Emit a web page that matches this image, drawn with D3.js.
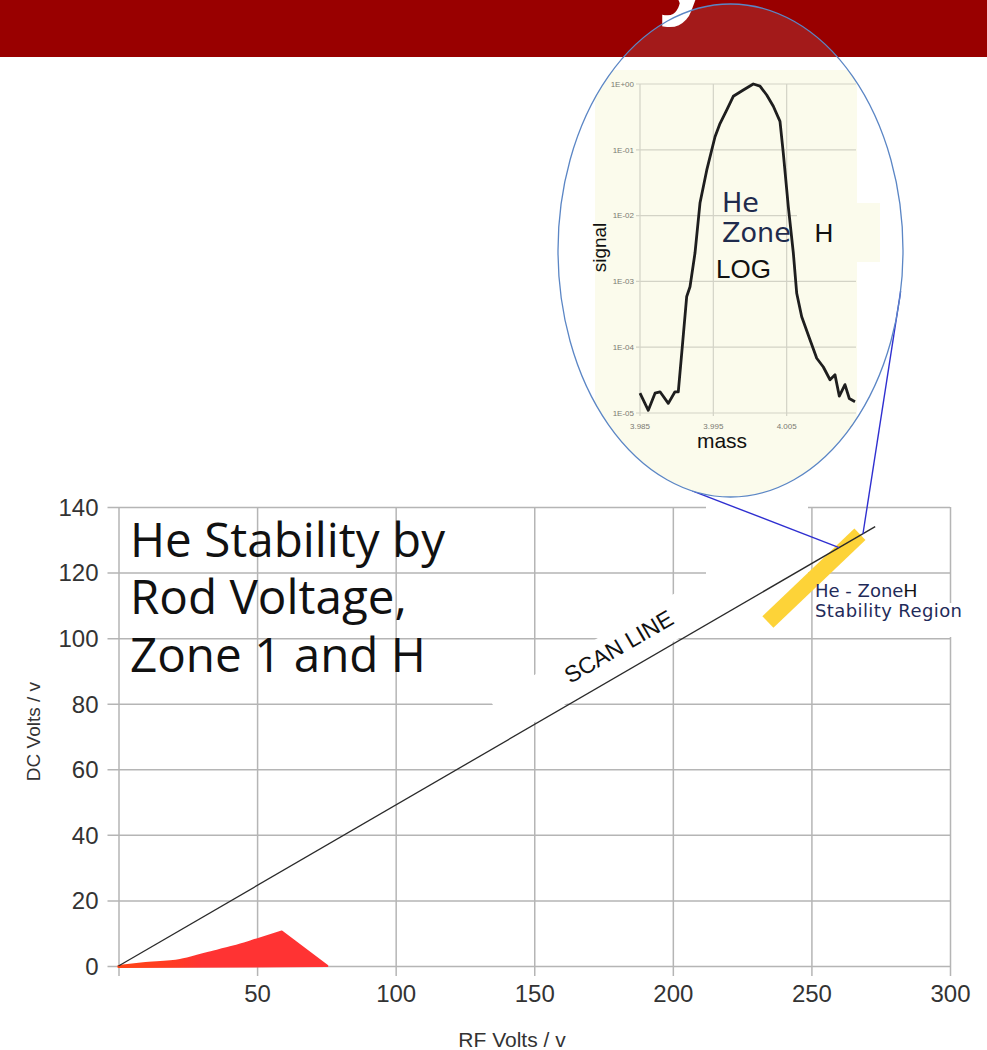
<!DOCTYPE html>
<html>
<head>
<meta charset="utf-8">
<script src="https://cdn.jsdelivr.net/npm/d3@7"></script>
<style>
  html, body { margin: 0; padding: 0; background: #fff; }
  svg { display: block; }
</style>
</head>
<body>
<svg id="chart" width="987" height="1050"></svg>
<script>
// ---- Main chart: DC vs RF rod voltage ----
const rfTicks = [0, 50, 100, 150, 200, 250, 300];
const dcTicks = [0, 20, 40, 60, 80, 100, 120, 140];

// scan line (RF, DC end points)
const scanRF = [0, 273];
const scanDC = [0, 134];

// Zone 1 stability region: curved upper edge up to the tip, then straight back to the axis
const zone1UpperRF = [0, 8.9, 22.2, 31.8, 41.4, 49.9, 58.9];
const zone1UpperDC = [0, 0.8, 1.8, 3.9, 5.9, 8.1, 10.5];
const zone1EndRF = 75.3;

// Zone H stability band (centre line end points)
const zoneHRF = [234.3, 267.5];
const zoneHDC = [104.9, 131.7];

// where the zone H band meets the scan line (connector anchors)
const zoneHScanRF = [260, 268.6];

// position of the "SCAN LINE" label along the scan line
const scanLabelRF = 185;

// ---- Inset: He peak, zone H, log scale ----
const massTicks = [3.985, 3.995, 4.005, 4.015];
const massTickLabels = ["3.985", "3.995", "4.005", "4.015"];
const signalTicks = [1, 1e-1, 1e-2, 1e-3, 1e-4, 1e-5];
const signalTickLabels = ["1E+00", "1E-01", "1E-02", "1E-03", "1E-04", "1E-05"];

const peakMass = [3.9850, 3.98613, 3.98705, 3.98773, 3.98886, 3.98977, 3.99022, 3.99069,
  3.99137, 3.99182, 3.99250, 3.99318, 3.99410, 3.99523, 3.99591, 3.99682, 3.99772,
  3.99909, 4.00045, 4.00136, 4.00228, 4.00318, 4.00409, 4.00454, 4.00522, 4.00591,
  4.00637, 4.00705, 4.00818, 4.00910, 4.01000, 4.01091, 4.01159, 4.01218, 4.01295,
  4.01354, 4.01432];
const peakSignal = [2.0e-5, 1.1e-5, 2.0e-5, 2.1e-5, 1.4e-5, 2.1e-5, 2.1e-5, 8.1e-5,
  5.9e-4, 8.3e-4, 2.7e-3, 1.55e-2, 4.9e-2, 0.158, 0.25, 0.40, 0.65,
  0.81, 1.0, 0.93, 0.68, 0.46, 0.27, 0.089, 0.0138, 2.7e-3,
  6.6e-4, 2.9e-4, 1.3e-4, 6.8e-5, 5.0e-5, 3.2e-5, 3.8e-5, 1.8e-5, 2.7e-5,
  1.66e-5, 1.48e-5];

const svg = d3.select("#chart");
const SANS = "'Liberation Sans', Arial, sans-serif";
const DEJAVU = "'DejaVu Sans', sans-serif";
const GRID = "#b5b5b5";

// ---------- header band ----------
svg.append("rect").attr("x", 0).attr("y", 0).attr("width", 987).attr("height", 57)
  .attr("fill", "#990000");
svg.append("text").attr("x", 659).attr("y", 4)
  .attr("font-family", "'Open Sans', sans-serif").attr("font-weight", 700)
  .attr("font-size", 96).attr("fill", "#fff").text("y");

// ---------- main plot ----------
const x = d3.scaleLinear().domain([0, 300]).range([118.5, 950]);
const y = d3.scaleLinear().domain([0, 140]).range([966, 507]);
const plotW = x(300) - x(0), plotH = y(0) - y(140);

const defs = svg.append("defs");
const grad = defs.append("linearGradient").attr("id", "zone1Fill")
  .attr("gradientUnits", "userSpaceOnUse")
  .attr("x1", x(0)).attr("x2", x(75)).attr("y1", 0).attr("y2", 0);
grad.append("stop").attr("offset", "0%").attr("stop-color", "#ff4515");
grad.append("stop").attr("offset", "28%").attr("stop-color", "#ff3a25");
grad.append("stop").attr("offset", "40%").attr("stop-color", "#ff3333");
grad.append("stop").attr("offset", "100%").attr("stop-color", "#ff3333");

const yAxis = d3.axisLeft(y).tickValues(dcTicks).tickSizeInner(-plotW).tickSizeOuter(0);
const gy = svg.append("g").attr("transform", `translate(${x(0)},0)`).call(yAxis);
gy.select(".domain").remove();
gy.selectAll(".tick line").attr("x1", -11).attr("stroke", GRID).attr("stroke-width", 1.5);
gy.selectAll(".tick text").attr("x", -20).attr("dy", "0.35em")
  .attr("font-family", SANS).attr("font-size", 24).attr("fill", "#333");

const xAxis = d3.axisBottom(x).tickValues(rfTicks).tickSizeInner(-plotH).tickSizeOuter(0)
  .tickFormat(d => d === 0 ? "" : d);
const gx = svg.append("g").attr("transform", `translate(0,${y(0)})`).call(xAxis);
gx.select(".domain").remove();
gx.selectAll(".tick line").attr("y1", 10).attr("stroke", GRID).attr("stroke-width", 1.5);
gx.selectAll(".tick text").attr("y", 36).attr("dy", null)
  .attr("font-family", SANS).attr("font-size", 24).attr("fill", "#333");

// axis titles
svg.append("text").attr("transform", `translate(40,${(y(0) + y(140)) / 2 - 5}) rotate(-90)`)
  .attr("text-anchor", "middle").attr("font-family", SANS).attr("font-size", 19)
  .attr("fill", "#333").text("DC Volts / v");
svg.append("text").attr("x", 512).attr("y", 1047)
  .attr("text-anchor", "middle").attr("font-family", SANS).attr("font-size", 21)
  .attr("fill", "#333").text("RF Volts / v");

// white backing behind the zone H label's second line
svg.append("rect").attr("x", 814).attr("y", 603).attr("width", 152).attr("height", 34)
  .attr("fill", "#fff");
// white backing of the magnifier callout, next to the zone H band
svg.append("rect").attr("x", 706).attr("y", 500).attr("width", 102).attr("height", 95)
  .attr("fill", "#fff");

// SCAN LINE label with its white backing box
const scanSlope = scanDC[1] / scanRF[1];
const ang = Math.atan2(y(scanDC[1]) - y(scanDC[0]), x(scanRF[1]) - x(scanRF[0])) * 180 / Math.PI;
const lbl = svg.append("g")
  .attr("transform", `translate(${x(scanLabelRF)},${y(scanLabelRF * scanSlope)}) rotate(${ang})`);
lbl.append("rect").attr("x", -138).attr("y", -43).attr("width", 274).attr("height", 41)
  .attr("fill", "#fff");

// title (drawn over the grid)
const title = svg.append("text").attr("font-family", "'Open Sans', sans-serif")
  .attr("font-size", 47.6).attr("fill", "#111");
["He Stability by", "Rod Voltage,", "Zone 1 and H"].forEach((t, i) => {
  title.append("tspan").attr("x", 130).attr("y", 557 + i * 57.3).text(t);
});

// zone 1 region
const upper = zone1UpperRF.map((r, i) => [x(r), y(zone1UpperDC[i])]);
const upperPath = d3.line().curve(d3.curveMonotoneX)(upper);
const zone1Path = upperPath + `L${x(zone1EndRF)},${y(0)}L${x(0)},${y(0) + 1}Z`;
svg.append("path").attr("d", zone1Path)
  .attr("fill", "url(#zone1Fill)").attr("stroke", "url(#zone1Fill)")
  .attr("stroke-width", 2.2).attr("stroke-linejoin", "round");

// zone H band
svg.append("line")
  .attr("x1", x(zoneHRF[0])).attr("y1", y(zoneHDC[0]))
  .attr("x2", x(zoneHRF[1])).attr("y2", y(zoneHDC[1]))
  .attr("stroke", "#fdd338").attr("stroke-width", 16);

// scan line
svg.append("line")
  .attr("x1", x(scanRF[0])).attr("y1", y(scanDC[0]))
  .attr("x2", x(scanRF[1])).attr("y2", y(scanDC[1]))
  .attr("stroke", "#2a2a2a").attr("stroke-width", 1.3);

lbl.append("text").attr("x", 0).attr("y", -17).attr("text-anchor", "middle")
  .attr("font-family", SANS).attr("font-size", 23).attr("fill", "#111")
  .text("SCAN LINE");

// zone H label
const zl = svg.append("text").attr("x", 815).attr("y", 597)
  .attr("font-family", DEJAVU).attr("font-size", 18).attr("fill", "#1f2b5a");
zl.append("tspan").text("He - Zone");
zl.append("tspan").attr("font-family", SANS).attr("font-size", 19).attr("fill", "#111").text("H");
svg.append("text").attr("x", 815).attr("y", 617)
  .attr("font-family", DEJAVU).attr("font-size", 18).attr("letter-spacing", 0.4)
  .attr("fill", "#1f2b5a").text("Stability Region");

// ---------- inset (magnifier) ----------
const E = { cx: 730.5, cy: 250.5, rx: 172.5, ry: 246.5 };
const onEllipse = deg => {
  const t = deg * Math.PI / 180;
  return [E.cx + E.rx * Math.cos(t), E.cy + E.ry * Math.sin(t)];
};

defs.append("clipPath").attr("id", "lens").append("ellipse")
  .attr("cx", E.cx).attr("cy", E.cy).attr("rx", E.rx).attr("ry", E.ry);
defs.append("clipPath").attr("id", "insetPlot").append("rect")
  .attr("x", 560).attr("y", 60).attr("width", 297).attr("height", 440);

// connectors from the lens to the zone H crossing on the scan line
const anchorA = [x(zoneHScanRF[0]), y(zoneHScanRF[0] * scanSlope)];
const anchorB = [x(zoneHScanRF[1]), y(zoneHScanRF[1] * scanSlope)];
const lensA = onEllipse(102.8), lensB = onEllipse(9.5);
svg.append("line").attr("x1", lensA[0]).attr("y1", lensA[1])
  .attr("x2", anchorA[0]).attr("y2", anchorA[1])
  .attr("stroke", "#2f2fd0").attr("stroke-width", 1.4);
svg.append("line").attr("x1", lensB[0]).attr("y1", lensB[1])
  .attr("x2", anchorB[0]).attr("y2", anchorB[1])
  .attr("stroke", "#2f2fd0").attr("stroke-width", 1.4);

svg.append("ellipse").attr("cx", E.cx).attr("cy", E.cy).attr("rx", E.rx).attr("ry", E.ry)
  .attr("fill", "rgba(255,255,255,0.1)");

const lens = svg.append("g").attr("clip-path", "url(#lens)");
const INSET_BG = "#fbfbec";
lens.append("rect").attr("x", 595).attr("y", 70).attr("width", 262).attr("height", 440)
  .attr("fill", INSET_BG);

const mx = d3.scaleLinear().domain([3.985, 4.015]).range([640, 860]);
const sy = d3.scaleLog().domain([1e-5, 1]).range([413, 84]);

const plot = lens.append("g").attr("clip-path", "url(#insetPlot)");
const IGRID = "#d3d3c6";
signalTicks.forEach((v, i) => {
  plot.append("line").attr("x1", 636).attr("x2", 856).attr("y1", sy(v)).attr("y2", sy(v))
    .attr("stroke", IGRID).attr("stroke-width", 1.2);
  plot.append("text").attr("x", 634).attr("y", sy(v)).attr("dy", "0.35em")
    .attr("text-anchor", "end").attr("font-family", SANS).attr("font-size", 8)
    .attr("fill", "#7a7a72").text(signalTickLabels[i]);
});
massTicks.forEach((m, i) => {
  plot.append("line").attr("x1", mx(m)).attr("x2", mx(m)).attr("y1", sy(1)).attr("y2", sy(1e-5) + 3)
    .attr("stroke", IGRID).attr("stroke-width", 1.2);
  plot.append("text").attr("x", mx(m)).attr("y", 429).attr("text-anchor", "middle")
    .attr("font-family", SANS).attr("font-size", 8).attr("fill", "#7a7a72")
    .text(massTickLabels[i]);
});

// box behind the "H" of the zone name
lens.append("rect").attr("x", 797).attr("y", 203).attr("width", 83).attr("height", 59)
  .attr("fill", INSET_BG);

plot.append("path")
  .attr("d", d3.line().x((d, i) => mx(peakMass[i])).y((d, i) => sy(peakSignal[i]))(peakMass))
  .attr("fill", "none").attr("stroke", "#1e1e1e").attr("stroke-width", 2.8)
  .attr("stroke-linejoin", "round");

lens.append("text").attr("transform", "translate(606,247.5) rotate(-90)")
  .attr("text-anchor", "middle").attr("font-family", SANS).attr("font-size", 19)
  .attr("fill", "#111").text("signal");
lens.append("text").attr("x", 722).attr("y", 448).attr("text-anchor", "middle")
  .attr("font-family", SANS).attr("font-size", 21).attr("fill", "#111").text("mass");

lens.append("text").attr("x", 722).attr("y", 212).attr("font-family", DEJAVU)
  .attr("font-size", 27).attr("fill", "#1f2b4d").text("He");
lens.append("text").attr("x", 722).attr("y", 242).attr("font-family", DEJAVU)
  .attr("font-size", 27).attr("fill", "#1f2b4d").text("Zone");
lens.append("text").attr("x", 814.5).attr("y", 242).attr("font-family", SANS)
  .attr("font-size", 26).attr("fill", "#111").text("H");
lens.append("text").attr("x", 716).attr("y", 278).attr("font-family", SANS)
  .attr("font-size", 26).attr("fill", "#111").text("LOG");

svg.append("ellipse").attr("cx", E.cx).attr("cy", E.cy).attr("rx", E.rx).attr("ry", E.ry)
  .attr("fill", "none").attr("stroke", "#5b86c5").attr("stroke-width", 1.3);
</script>
</body>
</html>
